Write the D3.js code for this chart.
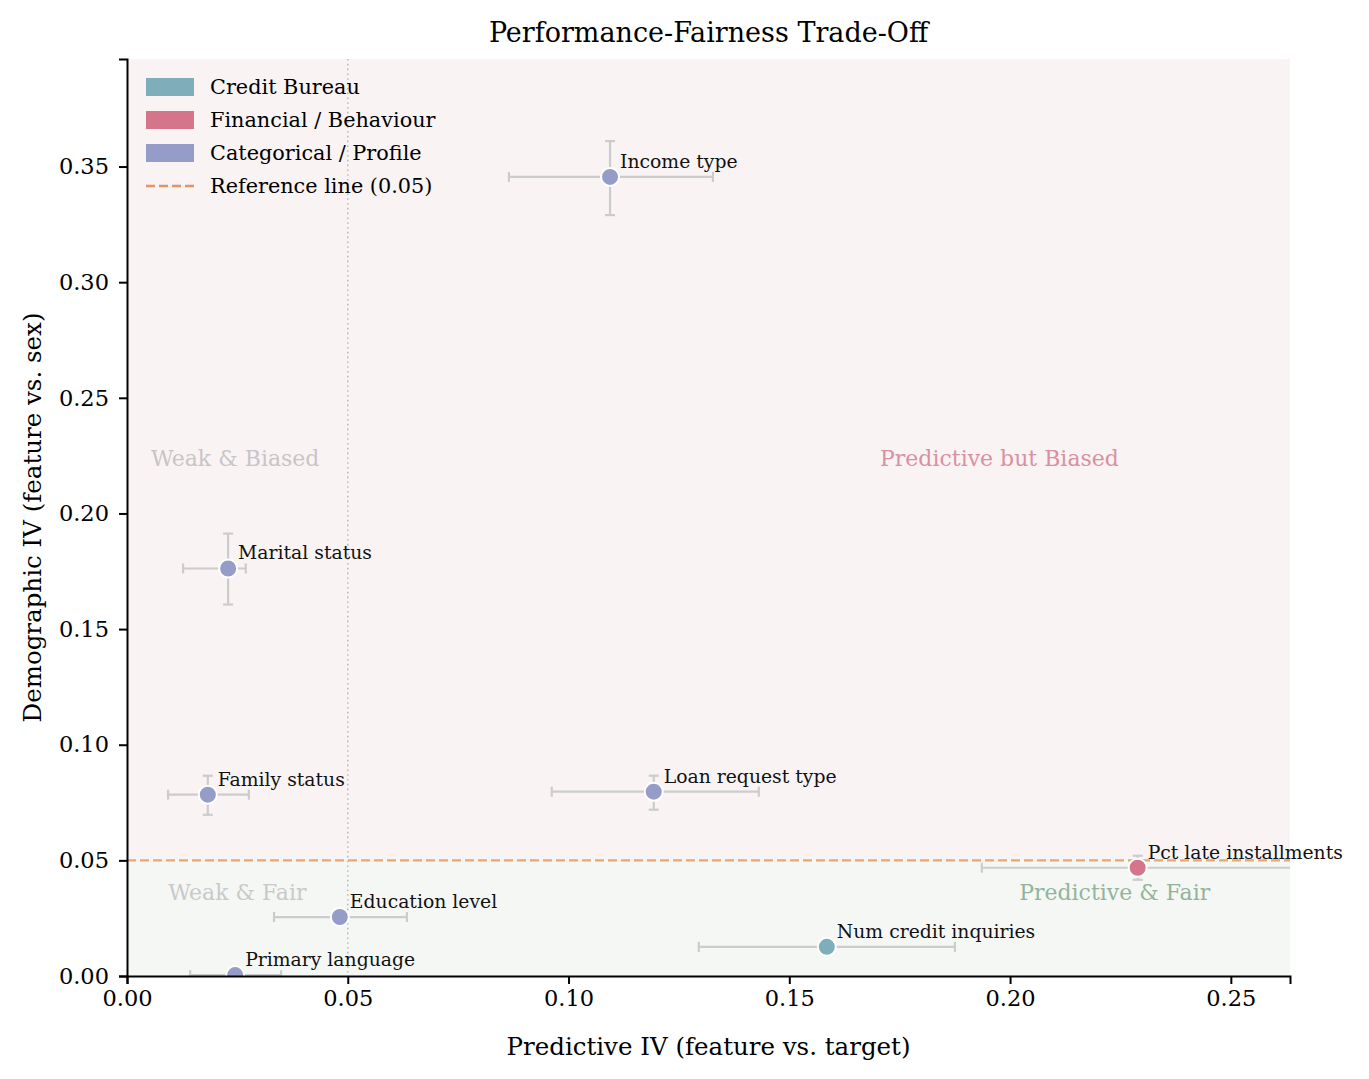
<!DOCTYPE html>
<html>
<head>
<meta charset="utf-8">
<script src="https://cdn.jsdelivr.net/npm/d3@7"></script>
<style>
  body { margin: 0; background: #fff; }
  text { font-family: "DejaVu Serif", "Liberation Serif", serif; }
</style>
</head>
<body>
<div id="chart"></div>
<script>
// values
const features = ["Income type", "Marital status", "Family status", "Loan request type",
    "Pct late installments", "Education level", "Num credit inquiries", "Primary language"];
const groups = ["Categorical / Profile", "Categorical / Profile", "Categorical / Profile", "Categorical / Profile",
    "Financial / Behaviour", "Categorical / Profile", "Credit Bureau", "Categorical / Profile"];
const predIV = [0.1094, 0.0229, 0.0183, 0.1193, 0.2289, 0.0482, 0.1585, 0.0245];
const predLo = [0.0865, 0.0127, 0.0093, 0.0962, 0.1936, 0.0333, 0.1295, 0.0143];
const predHi = [0.1327, 0.0269, 0.0276, 0.1431, 0.2660, 0.0634, 0.1875, 0.0349];
const demoIV = [0.3455, 0.1762, 0.0784, 0.0797, 0.0468, 0.0255, 0.0126, 0.0004];
const demoLo = [0.3290, 0.1606, 0.0697, 0.0719, 0.0416, 0.0240, 0.0115, 0.0000];
const demoHi = [0.3610, 0.1913, 0.0866, 0.0866, 0.0520, 0.0270, 0.0137, 0.0010];

const legendNames = ["Credit Bureau", "Financial / Behaviour", "Categorical / Profile"];
const legendColors = ["#7faeba", "#d5758c", "#959cc8"];
const xTicks = [0, 0.05, 0.10, 0.15, 0.20, 0.25];
const yTicks = [0, 0.05, 0.10, 0.15, 0.20, 0.25, 0.30, 0.35];
const refValue = 0.05;
const xMax = 0.2634, yMax = 0.3965;

const quadrants = [
    { label: "Weak & Biased", x: 0.0245, y: 0.2238, color: "#c9c5c7" },
    { label: "Predictive but Biased", x: 0.1976, y: 0.2238, color: "#d891a2" },
    { label: "Weak & Fair", x: 0.0250, y: 0.0360, color: "#c9c9c9" },
    { label: "Predictive & Fair", x: 0.2237, y: 0.0360, color: "#91b59c" }
];

const W = 1369, H = 1079;
const margin = { top: 59, right: 79, bottom: 103, left: 127 };
const innerW = W - margin.left - margin.right;
const innerH = H - margin.top - margin.bottom;

const svg = d3.select("#chart").append("svg")
    .attr("width", W).attr("height", H);

const color = d3.scaleOrdinal().domain(legendNames).range(legendColors);
const xScale = d3.scaleLinear().domain([0, xMax]).range([0, innerW]);
const yScale = d3.scaleLinear().domain([0, yMax]).range([innerH, 0]);

svg.append("defs").append("clipPath").attr("id", "plotclip")
    .append("rect").attr("width", innerW).attr("height", innerH);

const g = svg.append("g").attr("transform", `translate(${margin.left},${margin.top})`);
const plot = g.append("g").attr("clip-path", "url(#plotclip)");

// background bands
plot.append("rect")
    .attr("x", 0).attr("y", 0)
    .attr("width", innerW).attr("height", yScale(refValue))
    .attr("fill", "#f9f3f4");
plot.append("rect")
    .attr("x", 0).attr("y", yScale(refValue))
    .attr("width", innerW).attr("height", innerH - yScale(refValue))
    .attr("fill", "#f5f7f5");

// vertical dotted line at 0.05
plot.append("line")
    .attr("x1", xScale(refValue)).attr("x2", xScale(refValue))
    .attr("y1", 0).attr("y2", innerH)
    .attr("stroke", "#bdbdbd").attr("stroke-width", 1.6)
    .attr("stroke-dasharray", "1.6,3.2");

// quadrant labels
quadrants.forEach(q => {
    plot.append("text")
        .attr("x", xScale(q.x)).attr("y", yScale(q.y))
        .attr("text-anchor", "middle").attr("dominant-baseline", "central")
        .attr("font-size", 22).attr("fill", q.color)
        .text(q.label);
});

// horizontal reference line
plot.append("line")
    .attr("x1", 0).attr("x2", innerW)
    .attr("y1", yScale(refValue)).attr("y2", yScale(refValue))
    .attr("stroke", "#dd8c4f").attr("stroke-opacity", 0.75)
    .attr("stroke-width", 2.4).attr("stroke-dasharray", "9,4");

// error bars
const errColor = "#cccccc", cap = 5;
features.forEach((f, i) => {
    const cx = xScale(predIV[i]), cy = yScale(demoIV[i]);
    const eg = plot.append("g").attr("stroke", errColor).attr("stroke-width", 2.2);
    eg.append("line").attr("x1", xScale(predLo[i])).attr("x2", xScale(predHi[i]))
        .attr("y1", cy).attr("y2", cy);
    eg.append("line").attr("x1", xScale(predLo[i])).attr("x2", xScale(predLo[i]))
        .attr("y1", cy - cap).attr("y2", cy + cap);
    eg.append("line").attr("x1", xScale(predHi[i])).attr("x2", xScale(predHi[i]))
        .attr("y1", cy - cap).attr("y2", cy + cap);
    eg.append("line").attr("x1", cx).attr("x2", cx)
        .attr("y1", yScale(demoLo[i])).attr("y2", yScale(demoHi[i]));
    eg.append("line").attr("x1", cx - cap).attr("x2", cx + cap)
        .attr("y1", yScale(demoLo[i])).attr("y2", yScale(demoLo[i]));
    eg.append("line").attr("x1", cx - cap).attr("x2", cx + cap)
        .attr("y1", yScale(demoHi[i])).attr("y2", yScale(demoHi[i]));
});

// points
plot.selectAll("circle.pt")
    .data(features)
    .join("circle")
    .attr("class", "pt")
    .attr("cx", (d, i) => xScale(predIV[i]))
    .attr("cy", (d, i) => yScale(demoIV[i]))
    .attr("r", 9)
    .attr("fill", (d, i) => color(groups[i]))
    .attr("stroke", "#fff").attr("stroke-width", 2);

// point labels (not clipped)
g.selectAll("text.lbl")
    .data(features)
    .join("text")
    .attr("class", "lbl")
    .attr("x", (d, i) => xScale(predIV[i]) + 10)
    .attr("y", (d, i) => yScale(demoIV[i]) - 9)
    .attr("font-size", 18.8).attr("fill", "#111")
    .text(d => d);

// axes
const xAxis = d3.axisBottom(xScale).tickValues(xTicks).tickFormat(d3.format(".2f"))
    .tickSizeOuter(0).tickSize(8).tickPadding(6);
const yAxis = d3.axisLeft(yScale).tickValues(yTicks).tickFormat(d3.format(".2f"))
    .tickSizeOuter(0).tickSize(8).tickPadding(10);

const gx = g.append("g").attr("transform", `translate(0,${innerH})`).call(xAxis);
const gy = g.append("g").call(yAxis);
[gx, gy].forEach(ax => {
    ax.select(".domain").attr("stroke", "#000").attr("stroke-width", 2);
    ax.selectAll(".tick line").attr("stroke", "#000").attr("stroke-width", 2);
    ax.selectAll(".tick text").attr("font-size", 22.5).attr("fill", "#000")
        .style("font-family", "'DejaVu Serif', serif");
});

// axis titles
svg.append("text")
    .attr("x", margin.left + innerW / 2).attr("y", 1055)
    .attr("text-anchor", "middle").attr("font-size", 24.5)
    .text("Predictive IV (feature vs. target)");
svg.append("text")
    .attr("transform", `translate(41,${margin.top + innerH / 2}) rotate(-90)`)
    .attr("text-anchor", "middle").attr("font-size", 24.5)
    .text("Demographic IV (feature vs. sex)");
svg.append("text")
    .attr("x", margin.left + innerW / 2).attr("y", 42)
    .attr("text-anchor", "middle").attr("font-size", 27)
    .text("Performance-Fairness Trade-Off");

// legend
const legend = g.append("g").attr("transform", "translate(19,28)");
legendNames.forEach((name, i) => {
    const row = legend.append("g").attr("transform", `translate(0,${i * 33})`);
    row.append("rect").attr("x", 0).attr("y", -9).attr("width", 48).attr("height", 18)
        .attr("fill", legendColors[i]);
    row.append("text").attr("x", 64).attr("y", 0).attr("dominant-baseline", "central")
        .attr("font-size", 20.8).text(name);
});
const refRow = legend.append("g").attr("transform", `translate(0,${3 * 33})`);
refRow.append("line").attr("x1", 0).attr("x2", 48).attr("y1", 0).attr("y2", 0)
    .attr("stroke", "#dd8c4f").attr("stroke-opacity", 0.9)
    .attr("stroke-width", 2.6).attr("stroke-dasharray", "9,4");
refRow.append("text").attr("x", 64).attr("y", 0).attr("dominant-baseline", "central")
    .attr("font-size", 20.8).text("Reference line (0.05)");
</script>
</body>
</html>
